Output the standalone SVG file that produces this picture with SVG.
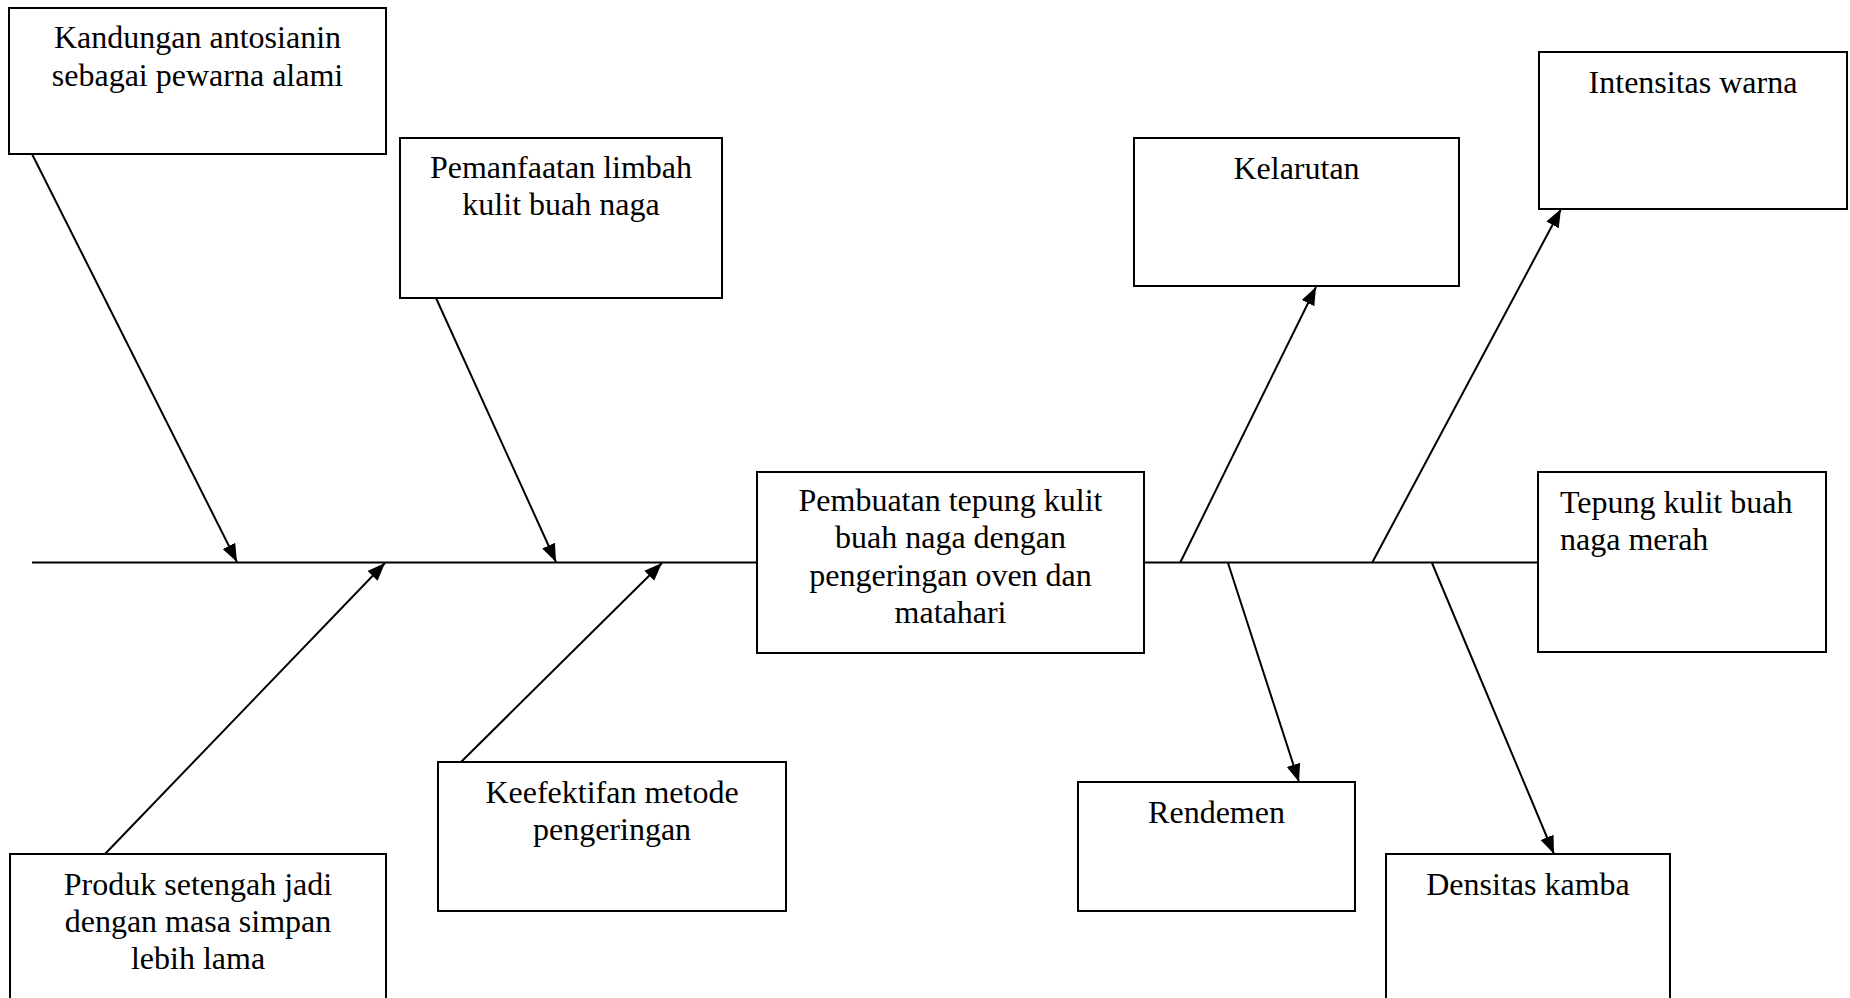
<svg xmlns="http://www.w3.org/2000/svg" width="1850" height="998" viewBox="0 0 1850 998">
<style>
.box{fill:#fff;stroke:#000;stroke-width:2}
.t{font-family:"Liberation Serif","Times New Roman",serif;font-size:32px;fill:#000;text-anchor:middle}
.tl{text-anchor:start}
.ln{stroke:#000;stroke-width:2;fill:none}
</style>
<defs>
<marker id="ah" markerUnits="userSpaceOnUse" markerWidth="20" markerHeight="16" refX="18" refY="7" orient="auto">
<path d="M0,0 L18,7 L0,14 z" fill="#000"/>
</marker>
</defs>
<rect width="1850" height="998" fill="#fff"/>
<g id="connectors">
<line class="ln" x1="32" y1="562.5" x2="757" y2="562.5"/>
<line class="ln" x1="1144" y1="562.5" x2="1538" y2="562.5"/>
<line class="ln" x1="32" y1="154" x2="237" y2="562" marker-end="url(#ah)"/>
<line class="ln" x1="436" y1="298" x2="556" y2="562" marker-end="url(#ah)"/>
<line class="ln" x1="105" y1="854" x2="385" y2="563" marker-end="url(#ah)"/>
<line class="ln" x1="461" y1="762" x2="662" y2="563" marker-end="url(#ah)"/>
<line class="ln" x1="1180" y1="563" x2="1316" y2="287" marker-end="url(#ah)"/>
<line class="ln" x1="1372" y1="563" x2="1561" y2="209" marker-end="url(#ah)"/>
<line class="ln" x1="1228" y1="563" x2="1299" y2="782" marker-end="url(#ah)"/>
<line class="ln" x1="1432" y1="563" x2="1554" y2="854" marker-end="url(#ah)"/>
</g>
<g id="n-kandungan">
<rect class="box" x="9" y="8" width="377" height="146"/>
<text class="t" x="197.5" y="48">Kandungan antosianin</text>
<text class="t" x="197.5" y="86">sebagai pewarna alami</text>
</g>
<g id="n-pemanfaatan">
<rect class="box" x="400" y="138" width="322" height="160"/>
<text class="t" x="561" y="178">Pemanfaatan limbah</text>
<text class="t" x="561" y="215">kulit buah naga</text>
</g>
<g id="n-produk">
<rect class="box" x="10" y="854" width="376" height="170"/>
<text class="t" x="198" y="895">Produk setengah jadi</text>
<text class="t" x="198" y="932">dengan masa simpan</text>
<text class="t" x="198" y="969">lebih lama</text>
</g>
<g id="n-keefektifan">
<rect class="box" x="438" y="762" width="348" height="149"/>
<text class="t" x="612" y="803">Keefektifan metode</text>
<text class="t" x="612" y="840">pengeringan</text>
</g>
<g id="n-center">
<rect class="box" x="757" y="472" width="387" height="181"/>
<text class="t" x="950.5" y="511">Pembuatan tepung kulit</text>
<text class="t" x="950.5" y="548">buah naga dengan</text>
<text class="t" x="950.5" y="586">pengeringan oven dan</text>
<text class="t" x="950.5" y="623">matahari</text>
</g>
<g id="n-kelarutan">
<rect class="box" x="1134" y="138" width="325" height="148"/>
<text class="t" x="1296.5" y="179">Kelarutan</text>
</g>
<g id="n-intensitas">
<rect class="box" x="1539" y="52" width="308" height="157"/>
<text class="t" x="1693" y="93">Intensitas warna</text>
</g>
<g id="n-tepung">
<rect class="box" x="1538" y="472" width="288" height="180"/>
<text class="t tl" x="1560" y="513">Tepung kulit buah</text>
<text class="t tl" x="1560" y="550">naga merah</text>
</g>
<g id="n-rendemen">
<rect class="box" x="1078" y="782" width="277" height="129"/>
<text class="t" x="1216.5" y="823">Rendemen</text>
</g>
<g id="n-densitas">
<rect class="box" x="1386" y="854" width="284" height="170"/>
<text class="t" x="1528" y="895">Densitas kamba</text>
</g>
</svg>
